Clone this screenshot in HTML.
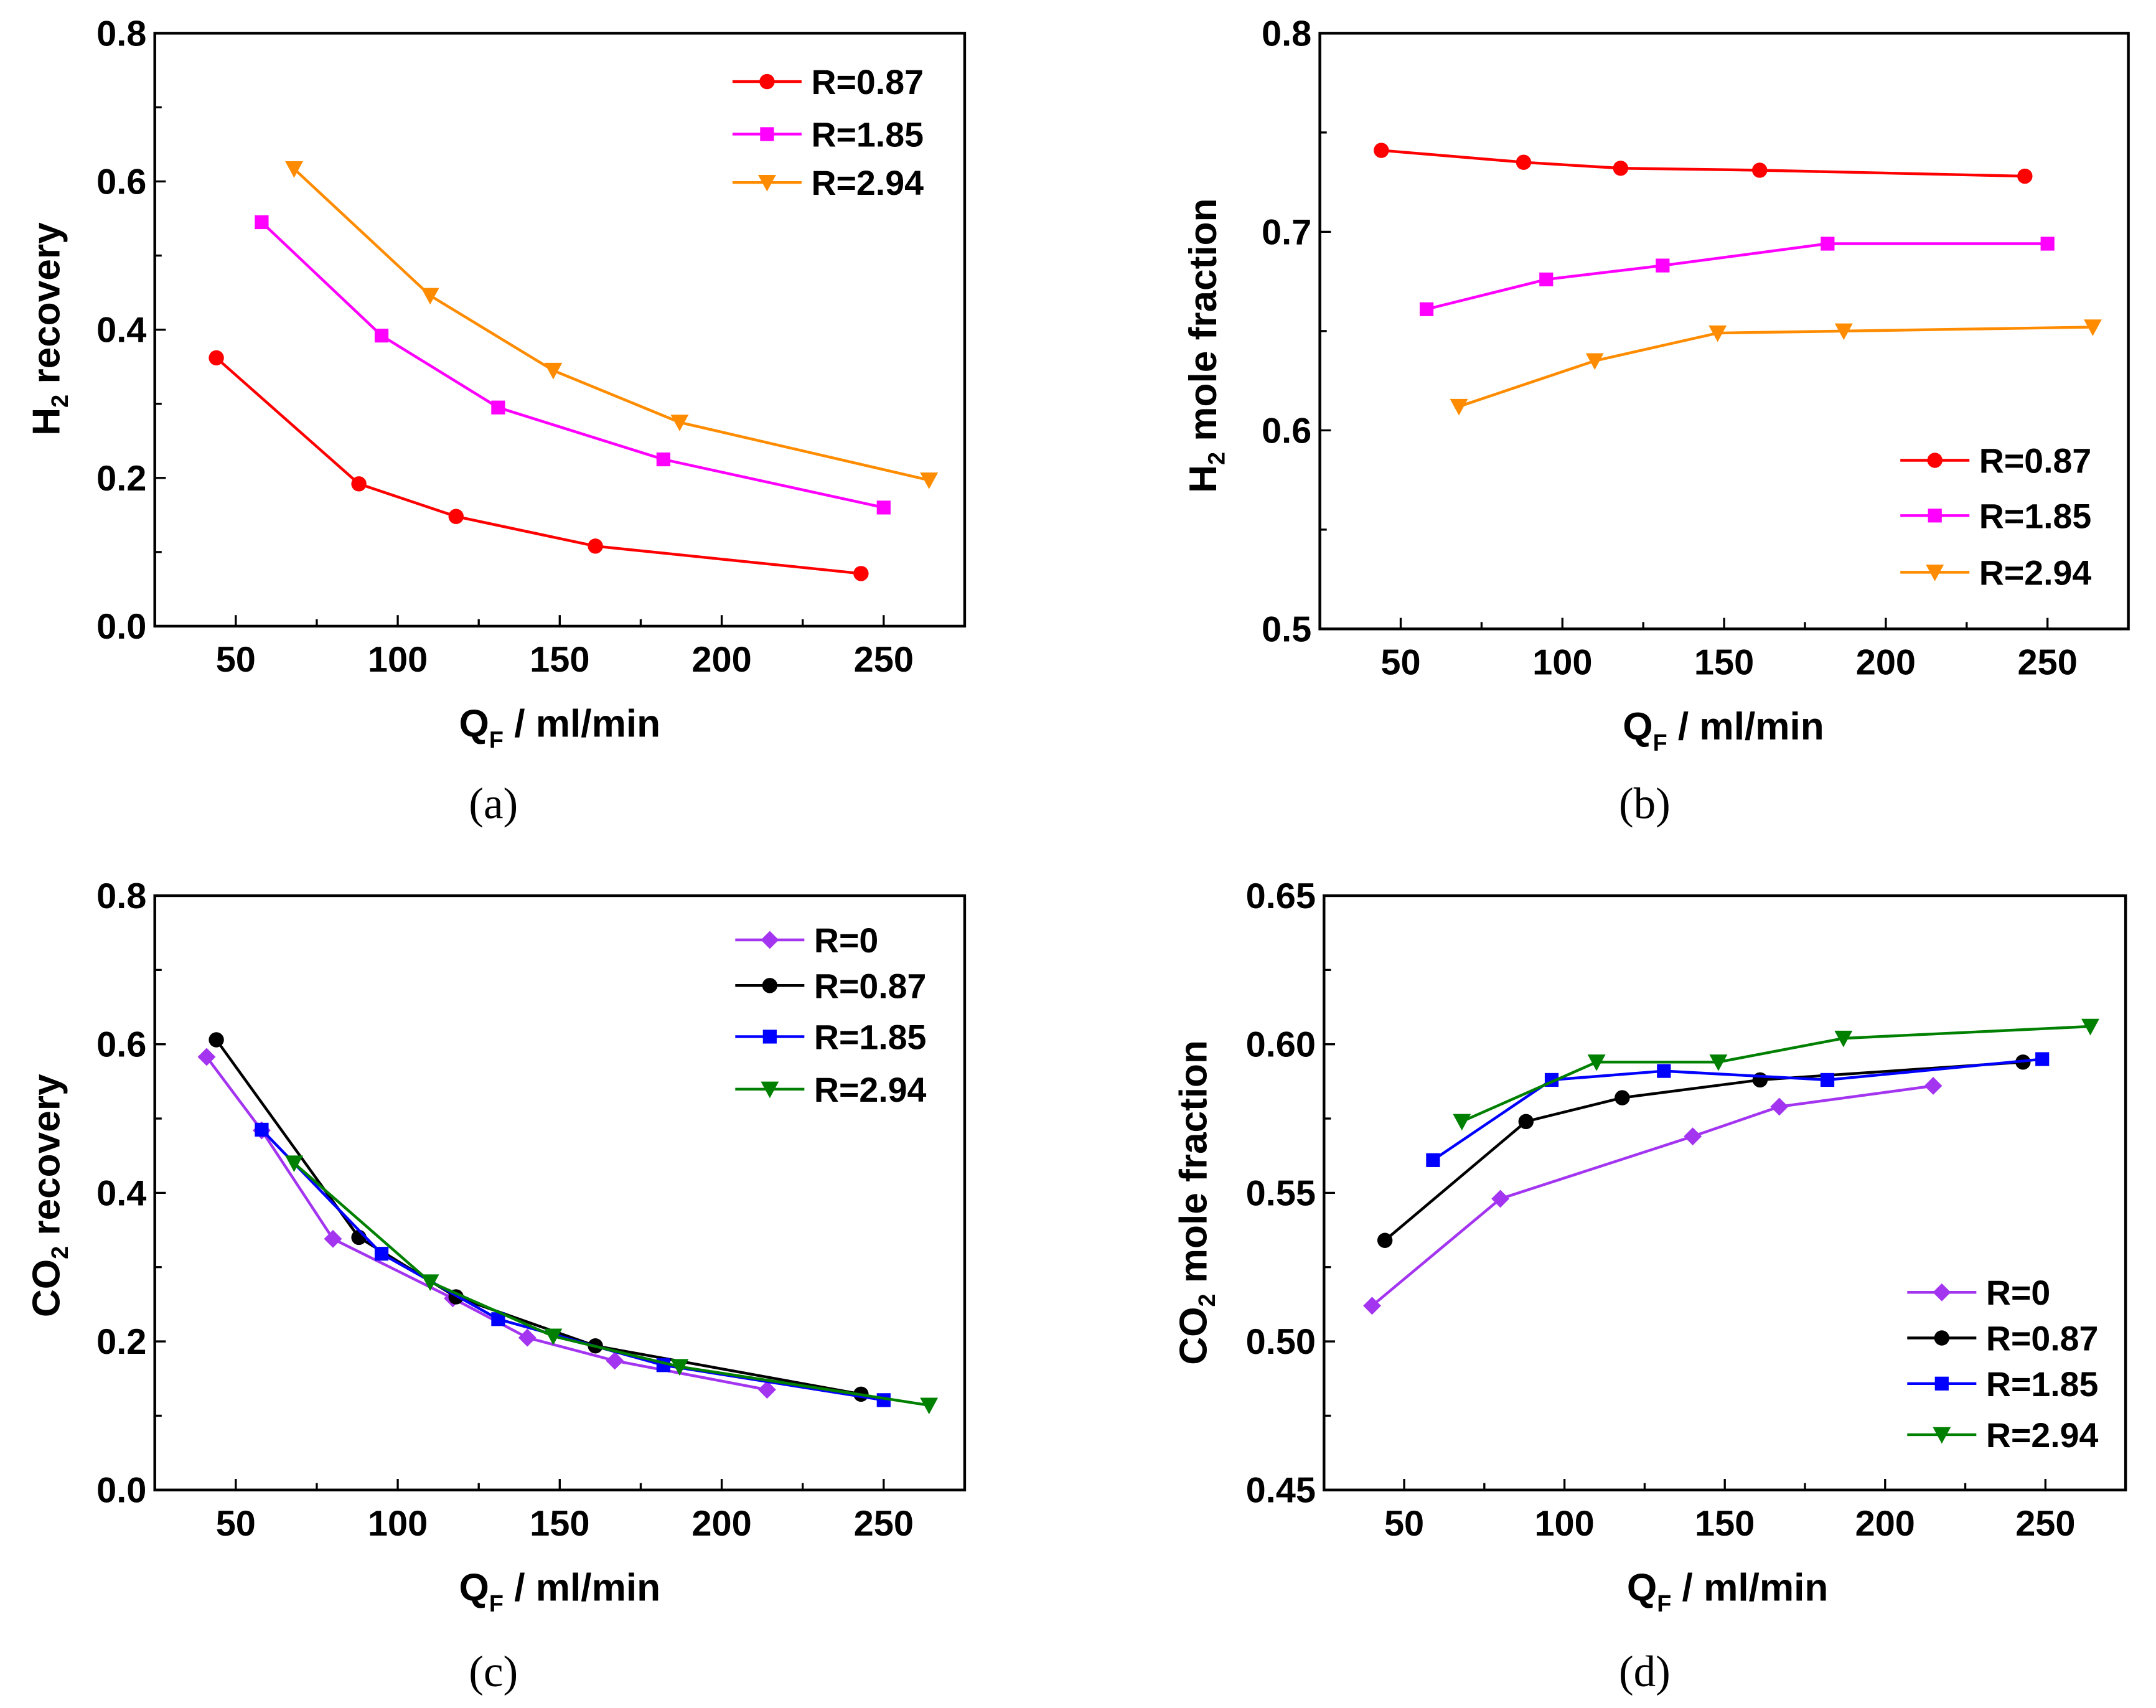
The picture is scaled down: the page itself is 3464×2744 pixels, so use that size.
<!DOCTYPE html>
<html><head><meta charset="utf-8"><style>
html,body{margin:0;padding:0;background:#fff;}
svg{display:block;}
text{font-family:"Liberation Sans",Arial,sans-serif;font-weight:bold;fill:#000;}
.cap{font-family:"Liberation Serif",serif;font-weight:normal;}
</style></head><body>
<svg id="fig" xmlns="http://www.w3.org/2000/svg" width="3464" height="2744" viewBox="0 0 1560 1235.7"></svg>
<script>
// ---- data ----
const xTicks = [50,100,150,200,250];
const xMinor = [75,125,175,225];
// panel a
const aX087=[44,88,118,161,243], aY087=[0.362,0.192,0.148,0.108,0.071];
const aX185=[58,95,131,182,250], aY185=[0.545,0.392,0.295,0.225,0.160];
const aX294=[68,110,148,187,264], aY294=[0.617,0.446,0.345,0.275,0.197];
const aYTicks=[0.0,0.2,0.4,0.6,0.8], aYMinor=[0.1,0.3,0.5,0.7];
const aYLabels=["0.0","0.2","0.4","0.6","0.8"];
// panel b
const bX087=[44,88,118,161,243], bY087=[0.741,0.735,0.732,0.731,0.728];
const bX185=[58,95,131,182,250], bY185=[0.661,0.676,0.683,0.694,0.694];
const bX294=[68,110,148,187,264], bY294=[0.612,0.635,0.649,0.650,0.652];
const bYTicks=[0.5,0.6,0.7,0.8], bYMinor=[0.55,0.65,0.75];
const bYLabels=["0.5","0.6","0.7","0.8"];
// panel c
const cX0=[41,58,80,117,140,167,214], cY0=[0.583,0.484,0.338,0.258,0.205,0.174,0.135];
const cX087=[44,88,118,161,243], cY087=[0.606,0.340,0.260,0.194,0.129];
const cX185=[58,95,131,182,250], cY185=[0.485,0.318,0.230,0.168,0.121];
const cX294=[68,110,148,187,264], cY294=[0.440,0.280,0.207,0.166,0.114];
const cYTicks=[0.0,0.2,0.4,0.6,0.8], cYMinor=[0.1,0.3,0.5,0.7];
const cYLabels=["0.0","0.2","0.4","0.6","0.8"];
// panel d
const dX0=[40,80,140,167,215], dY0=[0.512,0.548,0.569,0.579,0.586];
const dX087=[44,88,118,161,243], dY087=[0.534,0.574,0.582,0.588,0.594];
const dX185=[59,96,131,182,249], dY185=[0.561,0.588,0.591,0.588,0.595];
const dX294=[68,110,148,187,264], dY294=[0.574,0.594,0.594,0.602,0.606];
const dYTicks=[0.45,0.50,0.55,0.60,0.65], dYMinor=[0.475,0.525,0.575,0.625];
const dYLabels=["0.45","0.50","0.55","0.60","0.65"];

const NS="http://www.w3.org/2000/svg";
const svg=document.getElementById('fig');
function mk(tag,attrs,parent){const e=document.createElementNS(NS,tag);for(const k in attrs)e.setAttribute(k,attrs[k]);(parent||svg).appendChild(e);return e;}

function marker(g,shape,cx,cy,color){
  let e;
  if(shape==='circle'){e=mk('circle',{cx:cx,cy:cy,r:5.5,fill:color},g);}
  else if(shape==='square'){e=mk('rect',{x:cx-5,y:cy-5,width:10,height:10,fill:color},g);}
  else if(shape==='tri'){e=mk('polygon',{points:`${cx-6.5},${cy-5.5} ${cx+6.5},${cy-5.5} ${cx},${cy+6.5}`,fill:color},g);}
  else {e=mk('polygon',{points:`${cx},${cy-6.5} ${cx+6.5},${cy} ${cx},${cy+6.5} ${cx-6.5},${cy}`,fill:color},g);}
  return e;
}

function panel(p){
  const g=mk('g',{});
  
  
  const sx=v=>p.L+(v-25)/250*(p.R-p.L);
  const sy=v=>p.B-(v-p.y0)/(p.y1-p.y0)*(p.B-p.T);
  const fr=mk('rect',{x:p.L,y:p.T,width:p.R-p.L,height:p.B-p.T,fill:'none',stroke:'#000','stroke-width':2},g);
  
  
  xTicks.forEach(v=>{
    mk('line',{x1:sx(v),x2:sx(v),y1:p.B,y2:p.B-8,stroke:'#000','stroke-width':1.5},g);
    const t=mk('text',{x:sx(v),y:p.B+33,'font-size':26,'text-anchor':'middle'},g);t.textContent=v;
    
    
  });
  xMinor.forEach(v=>mk('line',{x1:sx(v),x2:sx(v),y1:p.B,y2:p.B-5,stroke:'#000','stroke-width':1.5},g));
  p.yt.forEach((v,i)=>{
    mk('line',{x1:p.L,x2:p.L+8,y1:sy(v),y2:sy(v),stroke:'#000','stroke-width':1.5},g);
    const t=mk('text',{x:p.L-6,y:sy(v)+9,'font-size':26,'text-anchor':'end'},g);t.textContent=p.yl[i];
    
    
  });
  p.ym.forEach(v=>mk('line',{x1:p.L,x2:p.L+5,y1:sy(v),y2:sy(v),stroke:'#000','stroke-width':1.5},g));
  const xt=mk('text',{x:p.xtx,y:p.B+80,'font-size':28,'text-anchor':'middle'},g);
  xt.innerHTML='Q<tspan font-size="17" dy="8">F</tspan><tspan dy="-8"> / ml/min</tspan>';
  
  
  const yt=mk('text',{x:0,y:0,'font-size':28,'text-anchor':'middle',transform:`translate(${p.ytx},${p.yty}) rotate(-90)`},g);
  yt.innerHTML=p.ytitle;
  
  
  const cp=mk('text',{x:p.capx,y:p.capy,'font-size':32,'text-anchor':'middle',class:'cap'},g);
  cp.textContent=p.cap;
  
  
  p.series.forEach((s,si)=>{
    const sg=mk('g',{},g);
    
    
    const pts=s.x.map((v,i)=>sx(v)+','+sy(s.y[i])).join(' ');
    mk('polyline',{points:pts,fill:'none',stroke:s.c,'stroke-width':2},sg);
    s.x.forEach((v,i)=>{const m=marker(sg,s.m,sx(v),sy(s.y[i]),s.c);
      
      });
    const ly=p.legY[si];
    const lg=mk('g',{},g);
    
    
    mk('line',{x1:p.legX,x2:p.legX+50,y1:ly,y2:ly,stroke:s.c,'stroke-width':2},lg);
    marker(lg,s.m,p.legX+25,ly,s.c);
    const lt=mk('text',{x:p.legX+57,y:ly+9,'font-size':25},lg);lt.textContent=s.label;
  });
}
const RED='#ff0000',MAG='#ff00ff',ORA='#ff8c00',VIO='#a335f0',BLK='#000',BLU='#0000ff',GRN='#008000';
panel({name:'panel-a-h2-recovery',L:112,R:698,T:24,B:453,y0:0,y1:0.8,yt:aYTicks,ym:aYMinor,yl:aYLabels,
  xtx:405,ytx:43,yty:238,ytitle:'H<tspan font-size="17" dy="6">2</tspan><tspan dy="-6"> recovery</tspan>',cap:'(a)',capx:357,capy:592,
  legX:530,legY:[59,97,132],
  series:[{x:aX087,y:aY087,c:RED,m:'circle',label:'R=0.87'},{x:aX185,y:aY185,c:MAG,m:'square',label:'R=1.85'},{x:aX294,y:aY294,c:ORA,m:'tri',label:'R=2.94'}]});
panel({name:'panel-b-h2-mole-fraction',L:955,R:1540,T:24,B:455,y0:0.5,y1:0.8,yt:bYTicks,ym:bYMinor,yl:bYLabels,
  xtx:1247,ytx:880,yty:250,ytitle:'H<tspan font-size="17" dy="6">2</tspan><tspan dy="-6"> mole fraction</tspan>',cap:'(b)',capx:1190,capy:592,
  legX:1375,legY:[333,373,414],
  series:[{x:bX087,y:bY087,c:RED,m:'circle',label:'R=0.87'},{x:bX185,y:bY185,c:MAG,m:'square',label:'R=1.85'},{x:bX294,y:bY294,c:ORA,m:'tri',label:'R=2.94'}]});
panel({name:'panel-c-co2-recovery',L:112,R:698,T:648,B:1078,y0:0,y1:0.8,yt:cYTicks,ym:cYMinor,yl:cYLabels,
  xtx:405,ytx:43,yty:865,ytitle:'CO<tspan font-size="17" dy="6">2</tspan><tspan dy="-6"> recovery</tspan>',cap:'(c)',capx:357,capy:1220,
  legX:532,legY:[680,713,750,788],
  series:[{x:cX0,y:cY0,c:VIO,m:'diamond',label:'R=0'},{x:cX087,y:cY087,c:BLK,m:'circle',label:'R=0.87'},{x:cX185,y:cY185,c:BLU,m:'square',label:'R=1.85'},{x:cX294,y:cY294,c:GRN,m:'tri',label:'R=2.94'}]});
panel({name:'panel-d-co2-mole-fraction',L:958,R:1538,T:648,B:1078,y0:0.45,y1:0.65,yt:dYTicks,ym:dYMinor,yl:dYLabels,
  xtx:1250,ytx:873,yty:870,ytitle:'CO<tspan font-size="17" dy="6">2</tspan><tspan dy="-6"> mole fraction</tspan>',cap:'(d)',capx:1190,capy:1220,
  legX:1380,legY:[935,968,1001,1038],
  series:[{x:dX0,y:dY0,c:VIO,m:'diamond',label:'R=0'},{x:dX087,y:dY087,c:BLK,m:'circle',label:'R=0.87'},{x:dX185,y:dY185,c:BLU,m:'square',label:'R=1.85'},{x:dX294,y:dY294,c:GRN,m:'tri',label:'R=2.94'}]});
</script>
</body></html>
